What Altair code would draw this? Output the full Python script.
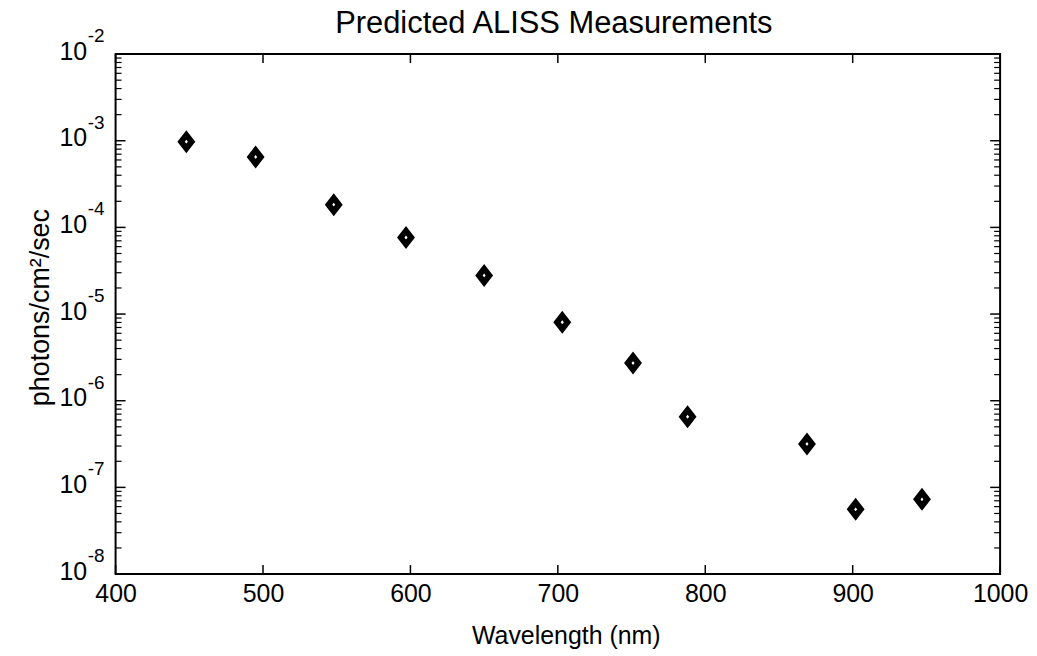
import altair as alt
import pandas as pd

# ---- data ----
wavelength = [448, 495, 548, 597, 650, 703, 751, 788, 869, 902, 947]
photons = [9.75e-4, 6.5e-4, 1.83e-4, 7.64e-5, 2.79e-5, 8.05e-6, 2.72e-6,
           6.53e-7, 3.17e-7, 5.58e-8, 7.28e-8]

x_ticks = [400, 500, 600, 700, 800, 900, 1000]
y_exponents = [-8, -7, -6, -5, -4, -3, -2]
minor_mult = [2, 3, 4, 5, 6, 7, 8, 9]
chart_title = ["Predicted ALISS Measurements"]

FONT = "Liberation Sans"
W, H = 888, 522

pts = pd.DataFrame({"wl": wavelength, "ph": photons})
ymaj = pd.DataFrame({"ph": [10.0 ** e for e in y_exponents],
                     "exp": [str(e) for e in y_exponents]})
ymin = pd.DataFrame({"ph": [m * 10.0 ** e for e in y_exponents[:-1] for m in minor_mult]})
xt = pd.DataFrame({"wl": x_ticks})
ttl = pd.DataFrame({"t": chart_title})

xscale = alt.Scale(domain=[400, 1000], nice=False, zero=False)
yscale = alt.Scale(type="log", domain=[1e-8, 1e-2], nice=False)

xaxis = alt.Axis(values=x_ticks, format="d", title="Wavelength (nm)", ticks=False,
                 domain=False, grid=False, labelFontSize=25, labelFont=FONT,
                 labelColor="black", labelPadding=8, labelFlush=False,
                 titleFont=FONT, titleFontSize=25, titleFontWeight="normal",
                 titleColor="black", titleX=452, titleY=70,
                 titleBaseline="alphabetic", titleAlign="center")
yaxis = alt.Axis(values=[10.0 ** e for e in y_exponents], labelExpr="'10'",
                 title="photons/cm²/sec", ticks=False, domain=False, grid=False,
                 labelFontSize=25, labelFont=FONT, labelColor="black",
                 labelPadding=29, labelBaseline="middle", labelFlush=False,
                 labelOffset=-3,
                 titleFont=FONT, titleFontSize=27, titleFontWeight="normal",
                 titleColor="black", titleX=-67, titleY=254,
                 titleAngle=-90, titleBaseline="alphabetic", titleAlign="center")

X = alt.X("wl:Q", scale=xscale, axis=xaxis)
Y = alt.Y("ph:Q", scale=yscale, axis=yaxis)

diamond = "M0,-1L0.778,0L0,1L-0.778,0Z"

points = alt.Chart(pts).mark_point(
    shape=diamond, filled=True, fill="white", stroke="black",
    strokeWidth=5.9, size=182, opacity=1, strokeOpacity=1, fillOpacity=1
).encode(x=X, y=Y)

exps = alt.Chart(ymaj).mark_text(
    font=FONT, fontSize=19, align="left", baseline="middle", dy=-18, color="black"
).encode(y=Y, x=alt.value(-28), text="exp:N")

title_mark = alt.Chart(ttl).mark_text(
    font=FONT, fontSize=31, align="center", baseline="alphabetic", color="black"
).encode(x=alt.value(W / 2 - 4), y=alt.value(-21), text="t:N")

ymaj_l = alt.Chart(ymaj).mark_rule(color="black", strokeWidth=1.5).encode(
    y=Y, x=alt.value(0), x2=alt.value(10))
ymaj_r = alt.Chart(ymaj).mark_rule(color="black", strokeWidth=1.5).encode(
    y=Y, x=alt.value(W), x2=alt.value(W - 10))
ymin_l = alt.Chart(ymin).mark_rule(color="black", strokeWidth=1.2).encode(
    y=Y, x=alt.value(0), x2=alt.value(6))
ymin_r = alt.Chart(ymin).mark_rule(color="black", strokeWidth=1.2).encode(
    y=Y, x=alt.value(W), x2=alt.value(W - 6))
xt_b = alt.Chart(xt).mark_rule(color="black", strokeWidth=1.5).encode(
    x=X, y=alt.value(H), y2=alt.value(H - 9))
xt_t = alt.Chart(xt).mark_rule(color="black", strokeWidth=1.5).encode(
    x=X, y=alt.value(0), y2=alt.value(9))

chart = alt.layer(
    points, ymaj_l, ymaj_r, ymin_l, ymin_r, xt_b, xt_t, exps, title_mark
).properties(
    width=W, height=H,
    autosize=alt.AutoSizeParams(type="none"),
    padding={"left": 108, "top": 45, "right": 29, "bottom": 76},
    background="white",
).configure_view(stroke="black", strokeWidth=2)

chart.save("out.html", embed_options={"renderer": "svg", "actions": False})
